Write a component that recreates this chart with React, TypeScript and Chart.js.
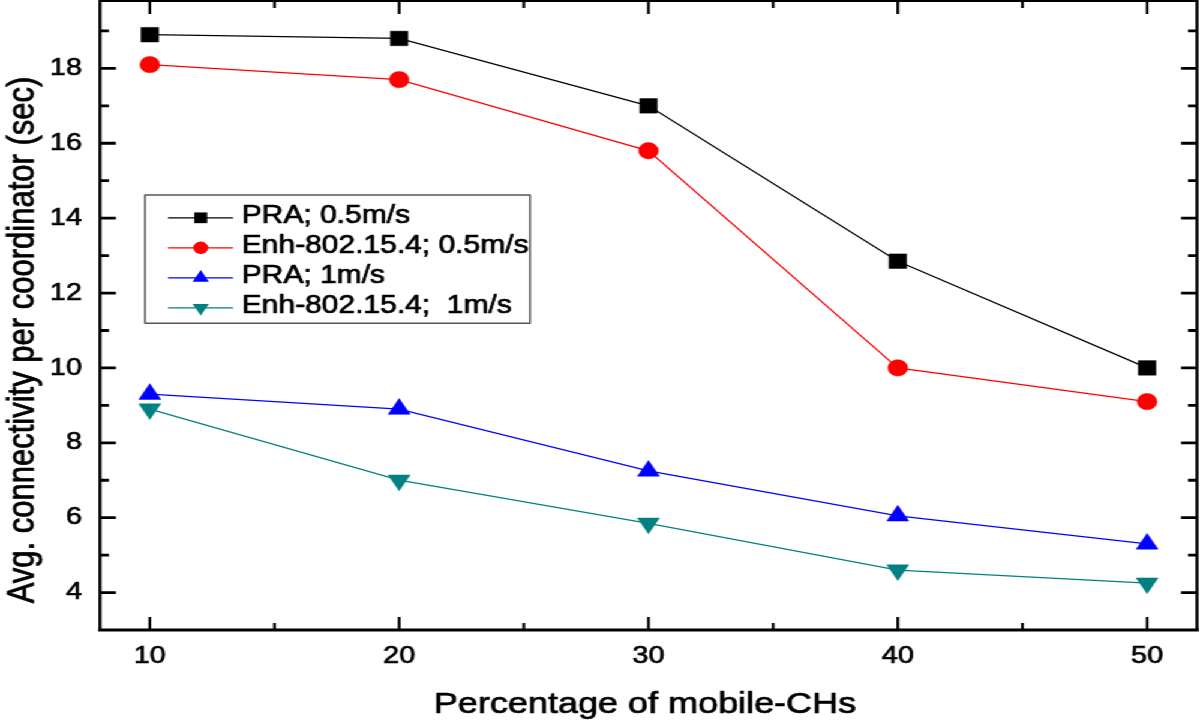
import React, { useEffect, useRef } from "react";
import { Chart, registerables } from "chart.js";

Chart.register(...registerables);

// ---- data ----
const xValues = [10, 20, 30, 40, 50];
const praSlow = [18.9, 18.8, 17.0, 12.85, 10.0];
const enhSlow = [18.1, 17.7, 15.8, 10.0, 9.1];
const praFast = [9.3, 8.9, 7.25, 6.05, 5.3];
const enhFast = [8.9, 7.0, 5.85, 4.6, 4.25];
const seriesLabels = [
  "PRA; 0.5m/s",
  "Enh-802.15.4; 0.5m/s",
  "PRA; 1m/s",
  "Enh-802.15.4;  1m/s",
];
const xMajorTicks = [10, 20, 30, 40, 50];
const xMinorTicks = [15, 25, 35, 45];
const yMajorTicks = [4, 6, 8, 10, 12, 14, 16, 18];
const yMinorTicks = [5, 7, 9, 11, 13, 15, 17, 19];
const xTitle = "Percentage of mobile-CHs";
const yTitle = "Avg. connectivity per coordinator (sec)";

// ---- styles ----
const FONT = '"Liberation Sans", Arial, Helvetica, sans-serif';
const STRETCH = 1.2;
const CW = 1000;
const CH = 720;
const TEXT_STROKE = 0.7;
const seriesValues = [praSlow, enhSlow, praFast, enhFast];
const seriesStyles = [
  { color: "#000000", pointStyle: "rect", radius: 10.3, rotation: 0, legendRadius: 7.6 },
  { color: "#ff0000", pointStyle: "circle", radius: 8.2, rotation: 0, legendRadius: 6.2 },
  { color: "#0000ff", pointStyle: "triangle", radius: 10.5, rotation: 0, legendRadius: 7.8 },
  { color: "#008080", pointStyle: "triangle", radius: 10.5, rotation: 180, legendRadius: 7.8 },
];

function drawMarker(ctx: CanvasRenderingContext2D, style: string, rotation: number, x: number, y: number, r: number, color: string) {
  ctx.save();
  ctx.fillStyle = color;
  ctx.beginPath();
  if (style === "rect") {
    const s = Math.SQRT1_2 * r;
    ctx.rect(x - s, y - s, 2 * s, 2 * s);
  } else if (style === "circle") {
    ctx.arc(x, y, r, 0, Math.PI * 2);
  } else {
    const dir = rotation === 180 ? 1 : -1;
    const hw = r * Math.sin(Math.PI / 3);
    ctx.moveTo(x, y + dir * r);
    ctx.lineTo(x + hw, y - dir * r / 2);
    ctx.lineTo(x - hw, y - dir * r / 2);
    ctx.closePath();
  }
  ctx.fill();
  ctx.restore();
}

function heavyText(ctx: CanvasRenderingContext2D, text: string, x: number, y: number) {
  ctx.fillText(text, x, y);
  ctx.lineWidth = TEXT_STROKE;
  ctx.strokeStyle = "#000";
  ctx.lineJoin = "round";
  ctx.strokeText(text, x, y);
}

const framePlugin = {
  id: "originFrame",
  beforeDatasetsDraw(chart: any) {
    const ctx: CanvasRenderingContext2D = chart.ctx;
    const { left, right, top, bottom } = chart.chartArea;
    const xs = chart.scales.x;
    const ys = chart.scales.y;
    ctx.save();
    ctx.strokeStyle = "#000";
    ctx.lineCap = "butt";
    ctx.lineWidth = 2.3;
    const xt = (vals: number[], len: number) => {
      vals.forEach((v) => {
        const px = xs.getPixelForValue(v);
        ctx.beginPath();
        ctx.moveTo(px, bottom);
        ctx.lineTo(px, bottom - len);
        ctx.moveTo(px, top);
        ctx.lineTo(px, top + len);
        ctx.stroke();
      });
    };
    const yt = (vals: number[], len: number) => {
      vals.forEach((v) => {
        const py = ys.getPixelForValue(v);
        ctx.beginPath();
        ctx.moveTo(left, py);
        ctx.lineTo(left + len, py);
        ctx.moveTo(right, py);
        ctx.lineTo(right - len, py);
        ctx.stroke();
      });
    };
    xt(xMajorTicks, 13);
    xt(xMinorTicks, 7);
    ctx.lineWidth = 2.8;
    yt(yMajorTicks, 13.3);
    yt(yMinorTicks, 7.5);
    ctx.lineWidth = 3;
    ctx.beginPath();
    ctx.moveTo(left - 1.5, bottom);
    ctx.lineTo(right + 1.5, bottom);
    ctx.stroke();
    ctx.lineWidth = 2.5;
    ctx.beginPath();
    ctx.moveTo(left, top);
    ctx.lineTo(left, bottom);
    ctx.moveTo(right, top);
    ctx.lineTo(right, bottom);
    ctx.stroke();
    ctx.lineWidth = 2;
    ctx.beginPath();
    ctx.moveTo(left - 1.25, top);
    ctx.lineTo(right + 1.25, top);
    ctx.stroke();
    ctx.restore();
  },
  afterDraw(chart: any) {
    const ctx: CanvasRenderingContext2D = chart.ctx;
    ctx.save();
    ctx.fillStyle = "#000";
    ctx.font = `30px ${FONT}`;
    ctx.textAlign = "center";
    ctx.textBaseline = "alphabetic";
    heavyText(ctx, xTitle, 537.5, 713);
    ctx.save();
    ctx.translate(27.5, 340);
    ctx.rotate(-Math.PI / 2);
    ctx.font = `31px ${FONT}`;
    heavyText(ctx, yTitle, 0, 0);
    ctx.restore();

    const bx = 120.8, by = 195, bw = 441.7 - 120.8, bh = 323.3 - 195;
    ctx.fillStyle = "#fff";
    ctx.fillRect(bx, by, bw, bh);
    ctx.strokeStyle = "#555";
    ctx.lineWidth = 1.5;
    ctx.strokeRect(bx, by, bw, bh);
    ctx.font = `25px ${FONT}`;
    ctx.textAlign = "left";
    ctx.textBaseline = "middle";
    seriesLabels.forEach((label, i) => {
      const st = seriesStyles[i];
      const ry = 216.3 + i * 30;
      const my = ry + 1.5;
      ctx.strokeStyle = st.color;
      ctx.lineWidth = 1.3;
      ctx.beginPath();
      ctx.moveTo(140, my);
      ctx.lineTo(194.2, my);
      ctx.stroke();
      drawMarker(ctx, st.pointStyle, st.rotation, 167.3, my, st.legendRadius, st.color);
      ctx.fillStyle = "#000";
      heavyText(ctx, label, 201.4, ry);
    });
    ctx.restore();
  },
};

export default function App() {
  const canvasRef = useRef<HTMLCanvasElement | null>(null);

  useEffect(() => {
    const canvas = canvasRef.current;
    if (!canvas) return;
    const datasets = seriesValues.map((vals, i) => {
      const st = seriesStyles[i];
      return {
        label: seriesLabels[i],
        data: xValues.map((x, j) => ({ x, y: vals[j] })),
        borderColor: st.color,
        backgroundColor: st.color,
        borderWidth: 1.3,
        pointStyle: st.pointStyle,
        pointRadius: st.radius,
        pointRotation: st.rotation,
        pointBorderWidth: 0.5,
        pointBorderColor: st.color,
        pointBackgroundColor: st.color,
        tension: 0,
        fill: false,
        clip: false,
      };
    });
    const tickOpts = {
      color: "#000",
      font: { family: FONT, size: 24 },
      textStrokeColor: "#000",
      textStrokeWidth: TEXT_STROKE,
      autoSkip: false,
    };
    const chart = new Chart(canvas, {
      type: "line",
      data: { datasets } as any,
      options: {
        responsive: false,
        devicePixelRatio: 1,
        animation: false,
        events: [],
        layout: { autoPadding: false, padding: { top: 1, right: 2.5, bottom: 0, left: 0 } },
        plugins: {
          legend: { display: false },
          tooltip: { enabled: false },
        },
        scales: {
          x: {
            type: "linear",
            min: 8,
            max: 52,
            grid: { display: false, drawTicks: false },
            border: { display: false },
            title: { display: false },
            afterBuildTicks: (s: any) => {
              s.ticks = xMajorTicks.map((v) => ({ value: v }));
            },
            afterFit: (s: any) => {
              s.height = 90;
              s.paddingLeft = 0;
              s.paddingRight = 0;
              s.paddingTop = 0;
              s.paddingBottom = 0;
            },
            ticks: { ...tickOpts, padding: 12, maxRotation: 0 },
          },
          y: {
            type: "linear",
            min: 3,
            max: 19.8,
            grid: { display: false, drawTicks: false },
            border: { display: false },
            title: { display: false },
            afterBuildTicks: (s: any) => {
              s.ticks = yMajorTicks.map((v) => ({ value: v }));
            },
            afterFit: (s: any) => {
              s.width = 83.3;
              s.paddingLeft = 0;
              s.paddingRight = 0;
              s.paddingTop = 0;
              s.paddingBottom = 0;
            },
            ticks: { ...tickOpts, padding: 15 },
          },
        },
      } as any,
      plugins: [framePlugin],
    });
    return () => chart.destroy();
  }, []);

  return (
    <div
      style={{
        position: "fixed",
        left: 0,
        top: 0,
        width: CW,
        height: CH,
        background: "#fff",
        transform: `scaleX(${STRETCH})`,
        transformOrigin: "0 0",
      }}
    >
      <canvas
        ref={canvasRef}
        width={CW}
        height={CH}
        style={{ display: "block", width: CW, height: CH }}
      />
    </div>
  );
}
